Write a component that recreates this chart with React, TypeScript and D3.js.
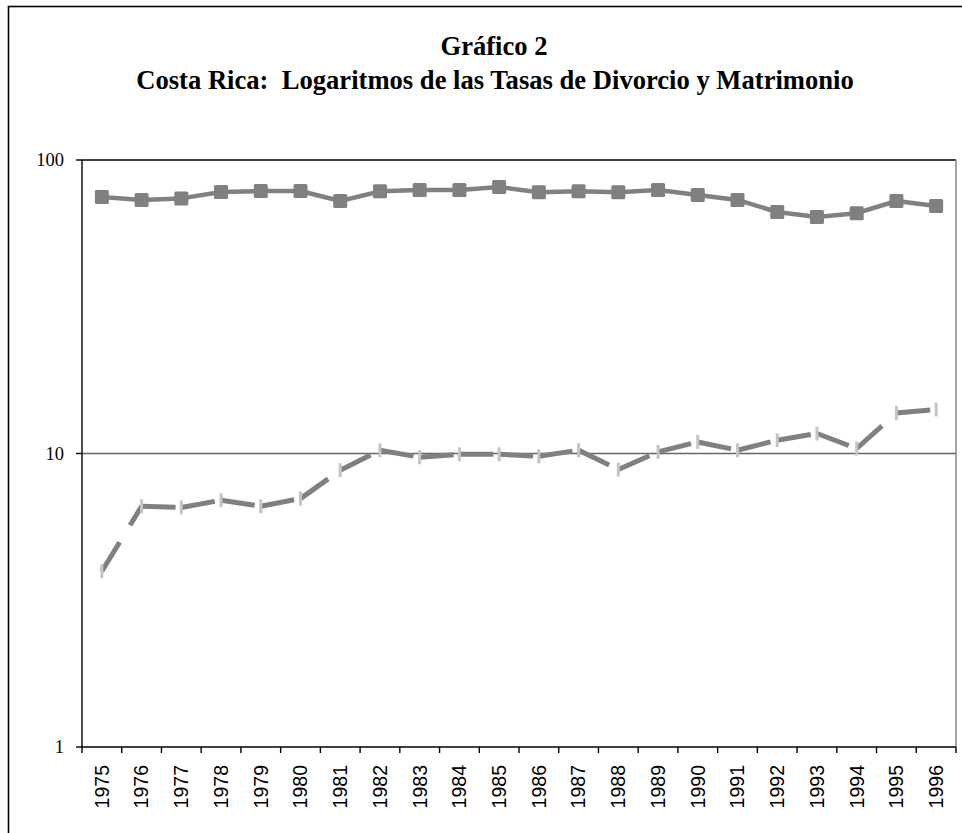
import React from "react";
import * as d3 from "d3";

const years = [
  "1975", "1976", "1977", "1978", "1979", "1980", "1981", "1982", "1983", "1984", "1985",
  "1986", "1987", "1988", "1989", "1990", "1991", "1992", "1993", "1994", "1995", "1996",
];

// Tasa de matrimonio (square markers)
const matrimonio = [
  74.8, 73.1, 74.0, 77.8, 78.4, 78.4, 72.5, 78.2, 79.0, 79.0, 80.9,
  77.6, 78.2, 77.6, 79.0, 76.0, 73.1, 66.5, 63.9, 65.9, 72.5, 69.7,
];

// Tasa de divorcio (dashed line)
const divorcio = [
  3.97, 6.61, 6.55, 6.93, 6.61, 7.02, 8.77, 10.26, 9.71, 9.94, 9.94,
  9.79, 10.26, 8.82, 10.13, 10.95, 10.26, 11.10, 11.70, 10.40, 13.75, 14.13,
];

const yTicks = [1, 10, 100];
const titleLines = ["Gráfico 2", "Costa Rica:  Logaritmos de las Tasas de Divorcio y Matrimonio"];

const W = 962;
const H = 833;
const plot = { left: 82, right: 956, top: 160, bottom: 747 };

export default function App() {
  const x = d3.scaleBand<string>().domain(years).range([plot.left, plot.right]).padding(0);
  const y = d3.scaleLog().domain([1, 100]).range([plot.bottom, plot.top]);
  const cx = (i: number) => (x(years[i]) as number) + x.bandwidth() / 2;

  const marLine = d3
    .line<number>()
    .x((_, i) => cx(i))
    .y((d) => y(d));

  // divorce dashed segments (pattern restarts at each vertex, like Excel)
  const divSegs = divorcio.slice(1).map((d, i) => {
    const p0 = [cx(i), y(divorcio[i])];
    const p1 = [cx(i + 1), y(d)];
    return d3.line()([p0 as [number, number], p1 as [number, number]]) as string;
  });

  const boundaries = years.map((yr) => x(yr) as number).concat([plot.right]);

  return (
    <svg
      width={W}
      height={H}
      style={{ position: "absolute", left: 0, top: 0, background: "#fff" }}
    >
      <rect x={0} y={0} width={W} height={H} fill="#fff" />
      {/* outer frame */}
      <rect x={8.5} y={6.5} width={1000} height={1000} fill="none" stroke="#000" strokeWidth={1.6} />

      {/* title */}
      <text
        x={494}
        y={55}
        textAnchor="middle"
        fontFamily="'Liberation Serif', 'Times New Roman', serif"
        fontWeight="bold"
        fontSize={26.6}
        fill="#000"
      >
        {titleLines[0]}
      </text>
      <text
        x={495}
        y={89}
        textAnchor="middle"
        fontFamily="'Liberation Serif', 'Times New Roman', serif"
        fontWeight="bold"
        fontSize={26.6}
        fill="#000"
        style={{ whiteSpace: "pre" }}
      >
        {titleLines[1]}
      </text>

      {/* gridlines */}
      {yTicks.slice(1).map((t) => (
        <line
          key={"g" + t}
          x1={plot.left}
          x2={plot.right}
          y1={y(t)}
          y2={y(t)}
          stroke={t === 100 ? "#000" : "#666"}
          strokeWidth={t === 100 ? 1.4 : 1.4}
        />
      ))}
      {/* right border of plot */}
      <line x1={plot.right} x2={plot.right} y1={plot.top} y2={plot.bottom} stroke="#808080" strokeWidth={1.4} />

      {/* y axis */}
      <line x1={plot.left} x2={plot.left} y1={plot.top} y2={plot.bottom} stroke="#000" strokeWidth={1.4} />
      {yTicks.map((t) => (
        <g key={"yt" + t}>
          <line x1={plot.left - 6} x2={plot.left} y1={y(t)} y2={y(t)} stroke="#000" strokeWidth={1.4} />
          <text
            x={64}
            y={y(t)}
            dy="0.35em"
            textAnchor="end"
            fontFamily="'Liberation Serif', 'Times New Roman', serif"
            fontSize={18.5}
            fill="#000"
          >
            {t}
          </text>
        </g>
      ))}

      {/* x axis */}
      <line x1={plot.left} x2={plot.right} y1={plot.bottom} y2={plot.bottom} stroke="#000" strokeWidth={1.4} />
      {boundaries.map((bx, i) => (
        <line key={"xt" + i} x1={bx} x2={bx} y1={plot.bottom} y2={plot.bottom + 6} stroke="#000" strokeWidth={1.4} />
      ))}
      {years.map((yr, i) => (
        <text
          key={"xl" + yr}
          transform={`translate(${cx(i)},765) rotate(-90)`}
          dy="0.35em"
          textAnchor="end"
          fontFamily="'Liberation Sans', Arial, sans-serif"
          fontSize={19.5}
          fill="#000"
        >
          {yr}
        </text>
      ))}

      {/* Matrimonio */}
      <path d={marLine(matrimonio) as string} fill="none" stroke="#808080" strokeWidth={4.5} strokeLinejoin="round" />
      {matrimonio.map((v, i) => (
        <rect
          key={"m" + i}
          x={cx(i) - 7}
          y={y(v) - 7}
          width={14}
          height={14}
          rx={1.5}
          fill="#808080"
        />
      ))}

      {/* Divorcio */}
      {divSegs.map((d, i) => (
        <path
          key={"d" + i}
          d={d}
          fill="none"
          stroke="#808080"
          strokeWidth={5}
          strokeDasharray="34,20"
          strokeLinecap="butt"
        />
      ))}
      {divorcio.map((v, i) => (
        <rect
          key={"dm" + i}
          x={cx(i) - 1.5}
          y={y(v) - 7}
          width={3}
          height={14}
          fill="#c4c4c4"
        />
      ))}
    </svg>
  );
}
